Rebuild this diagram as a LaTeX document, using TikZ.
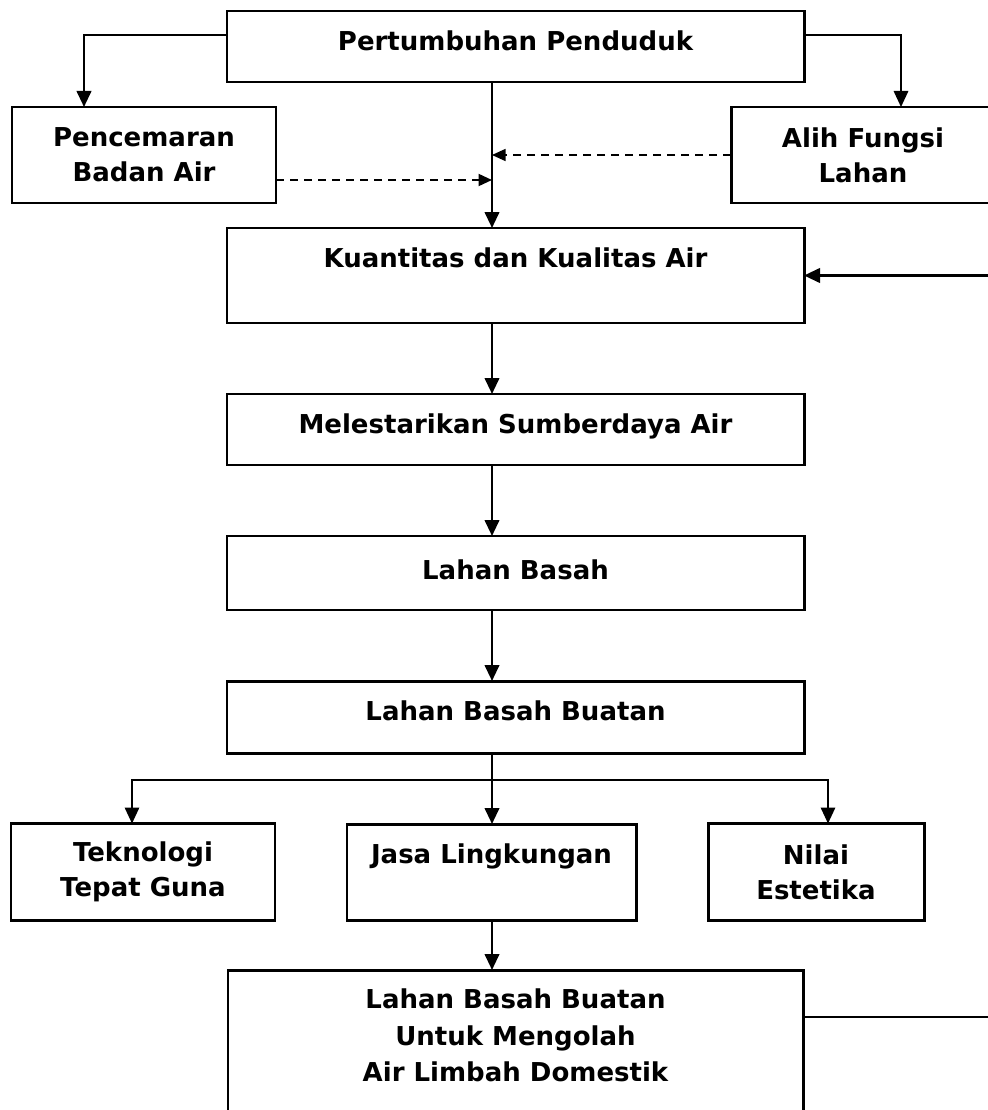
\documentclass[tikz,border=0pt]{standalone}
\usepackage{fontspec}
\setmainfont{DejaVu Sans}
\usetikzlibrary{positioning,arrows.meta}

\begin{document}
\begin{tikzpicture}[
  node distance=1.42cm,
  every node/.style={font=\bfseries\fontsize{14.8pt}{20pt}\selectfont},
  mainbox/.style={draw, line width=1.7pt, inner sep=0pt, outer sep=0pt, minimum width=11.54cm, text height=0.79cm, text depth=#1},
  sidebox/.style={draw, line width=1.7pt, inner sep=0pt, outer sep=0pt, align=center, minimum width=5.28cm, minimum height=1.92cm},
  arr/.style={-{Triangle[length=0.32cm,width=0.29cm]}, line width=1.4pt},
  thinarr/.style={-{Triangle[length=0.32cm,width=0.29cm]}, line width=0.9pt},
  dasharr/.style={-{Triangle[length=0.27cm,width=0.24cm]}, line width=1pt, dash pattern=on 0.16cm off 0.12cm}
]
\useasboundingbox (0,0) rectangle (19.74,-22.2);

% Main column
\node[mainbox=0.63cm] (pert) at (10.31,-0.93) {Pertumbuhan Penduduk};
\node[mainbox=1.11cm, below=2.92cm of pert] (kuant) {Kuantitas dan Kualitas Air};
\node[mainbox=0.63cm, below=of kuant] (melest) {Melestarikan Sumberdaya Air};
\node[mainbox=0.61cm, text height=0.87cm, below=of melest] (basah) {Lahan Basah};
\node[mainbox=0.65cm, below=of basah] (buatan) {Lahan Basah Buatan};

% Side boxes under the top box
\node[sidebox] (pencem) at (2.88,-3.10) {Pencemaran\\Badan Air};
\node[sidebox] (alih) at (17.26,-3.10) {Alih Fungsi\\Lahan};

% Three branches
\node[mainbox=1.13cm, minimum width=5.78cm, below=of buatan, xshift=-0.48cm] (jasa) {Jasa Lingkungan};
\node[sidebox, minimum height=1.94cm, left=1.44cm of jasa] (tekno) {Teknologi\\Tepat Guna};
\node[sidebox, minimum width=4.32cm, minimum height=1.94cm, right=1.44cm of jasa] (nilai) {Nilai\\Estetika};

\node[draw, line width=1.7pt, inner sep=0pt, outer sep=0pt, below=1.0cm of jasa, xshift=0.48cm] (final)
  {\parbox[c][2.96cm][t]{11.5cm}{\fontsize{14.8pt}{20.8pt}\selectfont\centering\rule{0pt}{0.77cm}Lahan Basah Buatan\\Untuk Mengolah\\Air Limbah Domestik}};

\coordinate (spine) at (9.84,0);
\coordinate (fork) at (9.84,-15.6);
\coordinate (loop) at (20.2,0);

% Arrows from the top box
\draw[arr] ([yshift=0.23cm]pert.west) -| ([xshift=-1.2cm]pencem.north);
\draw[thinarr] ([yshift=0.23cm]pert.east) -| ([xshift=0.76cm]alih.north);
\draw[arr] (pert.south -| spine) -- (kuant.north -| spine);
\draw[dasharr, line width=1.2pt] ([yshift=-0.5cm]pencem.east) -- ([yshift=-0.5cm]pencem.east -| spine);
\draw[dasharr, line width=0.8pt] (alih.west) -- (alih.west -| spine);

% Down the main column
\draw[arr] (kuant.south -| spine) -- (melest.north -| spine);
\draw[arr] (melest.south -| spine) -- (basah.north -| spine);
\draw[arr] (basah.south -| spine) -- (buatan.north -| spine);
\draw[arr] (buatan.south -| spine) -- (jasa.north -| spine);
\draw[thinarr] (fork) -| ([xshift=-0.22cm]tekno.north);
\draw[thinarr] (fork) -| ([xshift=0.24cm]nilai.north);
\draw[arr] (jasa.south -| spine) -- (final.north -| spine);

% Feedback on the right
\draw[arr] ([yshift=0.54cm]final.east) -- ([yshift=0.54cm]final.east -| loop) |- (kuant.east);
\end{tikzpicture}
\end{document}
